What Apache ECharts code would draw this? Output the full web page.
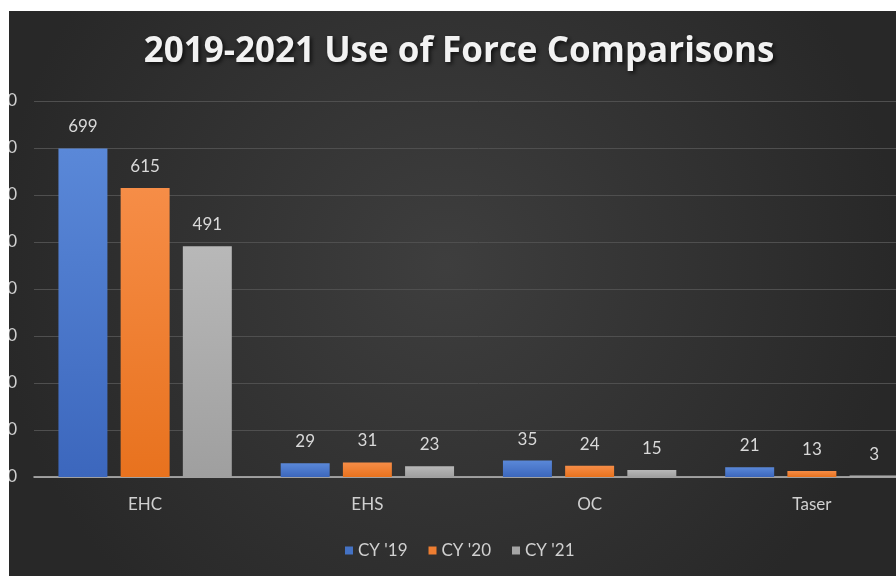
<!DOCTYPE html>
<html>
<head>
<meta charset="utf-8">
<script src="https://cdn.jsdelivr.net/npm/echarts@6/dist/echarts.min.js"></script>
<style>
html,body{margin:0;padding:0;background:#ffffff;width:896px;height:576px;overflow:hidden;position:relative;}
#c{position:absolute;left:9px;top:11px;width:930px;height:565px;}
</style>
</head>
<body>
<div id="c"></div>
<script>
const titleText = "2019-2021 Use of Force Comparisons";
const categories = ["EHC", "EHS", "OC", "Taser"];
const seriesNames = ["CY '19", "CY '20", "CY '21"];
const cy19 = [699, 29, 35, 21];
const cy20 = [615, 31, 24, 13];
const cy21 = [491, 23, 15, 3];
const yTicks = [0, 100, 200, 300, 400, 500, 600, 700, 800];

const chart = echarts.init(document.getElementById('c'));
function grad(top, bottom){
  return new echarts.graphic.LinearGradient(0,0,0,1,[{offset:0,color:top},{offset:1,color:bottom}]);
}
const colors = [grad('#5a88d8','#3c67bd'), grad('#f68d47','#e8721e'), grad('#b8b8b8','#9f9f9f')];
const legendColors = ['#4472c4','#ed7d31','#a5a5a5'];
const values = [cy19, cy20, cy21];
const labelStyle = {show:true, position:'top', distance:13, color:'#d9d9d9', fontSize:17, fontFamily:'Lato'};
chart.setOption({
  backgroundColor: new echarts.graphic.RadialGradient(0.47,0.45,0.8,[{offset:0,color:'#3e3e3e'},{offset:1,color:'#282828'}]),
  animation:false,
  title:{text:titleText, left:445, textAlign:'center', top:19,
    textStyle:{color:'#f2f2f2', fontSize:35, fontWeight:'bold', fontFamily:'Open Sans',
      textShadowColor:'rgba(0,0,0,0.7)', textShadowBlur:4, textShadowOffsetX:2, textShadowOffsetY:2}},
  legend:{left:331, top:526, itemWidth:8, itemHeight:8, itemGap:21, icon:'rect',
    textStyle:{color:'#d0d0d0', fontSize:17, fontFamily:'Lato'},
    data: seriesNames.map((n,i)=>({name:n, itemStyle:{color:legendColors[i]}}))},
  grid:{left:25, right:16, top:90, bottom:99, containLabel:false, outerBoundsMode:'none'},
  xAxis:{type:'category', data:categories,
    axisLine:{lineStyle:{color:'#bdbdbd', width:1.5}}, axisTick:{show:false},
    axisLabel:{color:'#d0d0d0', fontSize:17, fontFamily:'Lato', margin:19}},
  yAxis:{type:'value', min:yTicks[0], max:yTicks[yTicks.length-1], interval:yTicks[1]-yTicks[0],
    axisLine:{show:false}, axisTick:{show:false},
    axisLabel:{color:'#d0d0d0', fontSize:17, fontFamily:'Lato', margin:17},
    splitLine:{lineStyle:{color:'#4f4f4f', width:1}}},
  series: seriesNames.map((n,i)=>({
    name:n, type:'bar', data:values[i], barGap:'27%', barCategoryGap:'22%',
    itemStyle:{color:colors[i]}, label:labelStyle
  }))
});
</script>
</body>
</html>
